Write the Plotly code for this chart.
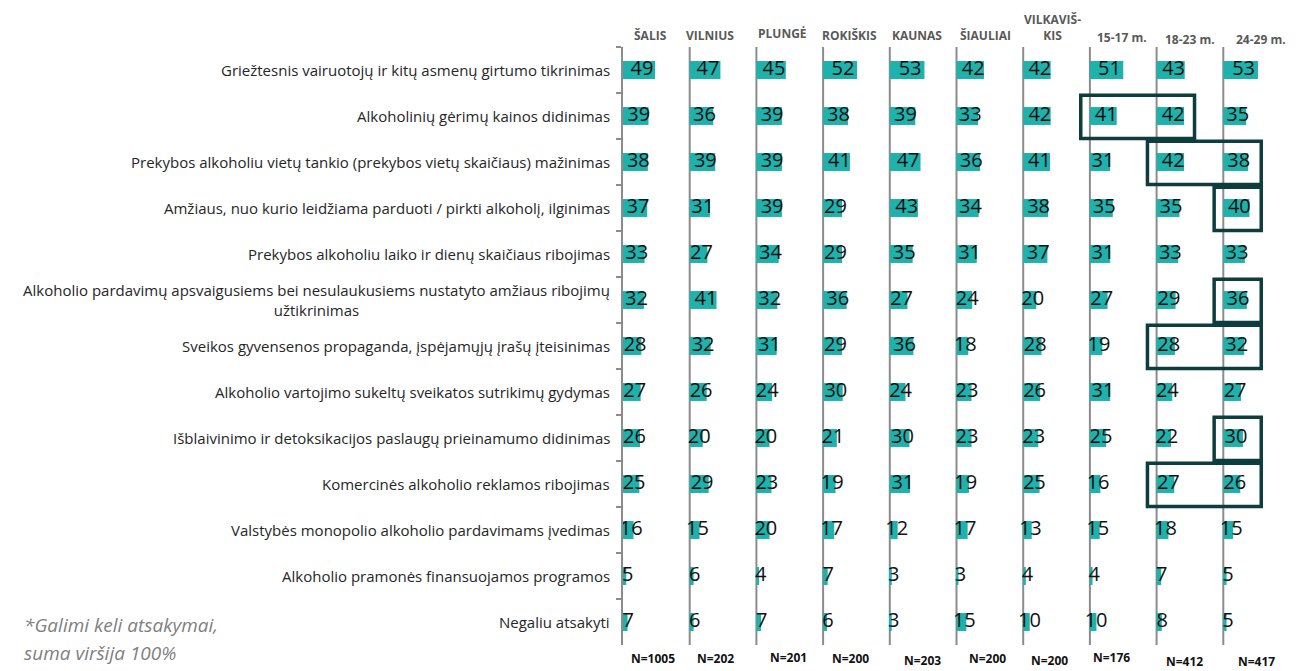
import plotly.graph_objects as go

categories = [
    "Griežtesnis vairuotojų ir kitų asmenų girtumo tikrinimas",
    "Alkoholinių gėrimų kainos didinimas",
    "Prekybos alkoholiu vietų tankio (prekybos vietų skaičiaus) mažinimas",
    "Amžiaus, nuo kurio leidžiama parduoti / pirkti alkoholį, ilginimas",
    "Prekybos alkoholiu laiko ir dienų skaičiaus ribojimas",
    "Alkoholio pardavimų apsvaigusiems bei nesulaukusiems nustatyto amžiaus ribojimų<br>užtikrinimas",
    "Sveikos gyvensenos propaganda, įspėjamųjų įrašų įteisinimas",
    "Alkoholio vartojimo sukeltų sveikatos sutrikimų gydymas",
    "Išblaivinimo ir detoksikacijos paslaugų prieinamumo didinimas",
    "Komercinės alkoholio reklamos ribojimas",
    "Valstybės monopolio alkoholio pardavimams įvedimas",
    "Alkoholio pramonės finansuojamos programos",
    "Negaliu atsakyti",
]

groups = ["ŠALIS", "VILNIUS", "PLUNGĖ", "ROKIŠKIS", "KAUNAS", "ŠIAULIAI",
          "VILKAVIŠ-<br>KIS", "15-17 m.", "18-23 m.", "24-29 m."]
sample_sizes = ["N=1005", "N=202", "N=201", "N=200", "N=203", "N=200",
                "N=200", "N=176", "N=412", "N=417"]

salis = [49, 39, 38, 37, 33, 32, 28, 27, 26, 25, 16, 5, 7]
vilnius = [47, 36, 39, 31, 27, 41, 32, 26, 20, 29, 15, 6, 6]
plunge = [45, 39, 39, 39, 34, 32, 31, 24, 20, 23, 20, 4, 7]
rokiskis = [52, 38, 41, 29, 29, 36, 29, 30, 21, 19, 17, 7, 6]
kaunas = [53, 39, 47, 43, 35, 27, 36, 24, 30, 31, 12, 3, 3]
siauliai = [42, 33, 36, 34, 31, 24, 18, 23, 23, 19, 17, 3, 15]
vilkaviskis = [42, 42, 41, 38, 37, 20, 28, 26, 23, 25, 13, 4, 10]
age_15_17 = [51, 41, 31, 35, 31, 27, 19, 31, 25, 16, 15, 4, 10]
age_18_23 = [43, 42, 42, 35, 33, 29, 28, 24, 22, 27, 18, 7, 8]
age_24_29 = [53, 35, 38, 40, 33, 36, 32, 27, 30, 26, 15, 5, 5]

series = [salis, vilnius, plunge, rokiskis, kaunas, siauliai, vilkaviskis,
          age_15_17, age_18_23, age_24_29]

# highlighted cells: (category index, first group index, last group index)
highlights = [(1, 7, 8), (2, 8, 9), (3, 9, 9), (5, 9, 9), (6, 8, 9), (8, 9, 9), (9, 8, 9)]

# ---------------- layout ----------------
W, H = 1308, 671
L, R, T, B = 623, 18, 47, 26
S = 102  # axis units per panel
BAR = "#1FB1AB"
GRID = "#8c8c8c"
FONT = "Open Sans"

def px_x(px):
    return (px - L) / (W - L - R)

def px_y(py):
    return (H - B - py) / (H - T - B)

fig = go.Figure()

for k, vals in enumerate(series):
    fig.add_trace(go.Bar(
        orientation="h", y=categories, x=vals, base=k * S, width=0.39,
        marker=dict(color=BAR, line=dict(width=0)), hoverinfo="skip",
        showlegend=False))
for k, vals in enumerate(series):
    fig.add_trace(go.Scatter(
        mode="text", y=categories, x=[k * S + v / 2 + 4.5 for v in vals],
        text=[str(v) for v in vals], textposition="middle center",
        textfont=dict(family=FONT, size=20, color="#111111"),
        hoverinfo="skip", showlegend=False, cliponaxis=False))

shapes = []
for k in range(1, len(series)):
    shapes.append(dict(type="line", xref="x", yref="paper", x0=k * S, x1=k * S,
                       y0=0, y1=1, line=dict(color=GRID, width=2), layer="below"))
for (r, g0, g1) in highlights:
    shapes.append(dict(type="rect", xref="x", yref="y",
                       x0=g0 * S - 14, x1=g1 * S + 58, y0=r - 0.45, y1=r + 0.49,
                       line=dict(color="#0E3D3D", width=3.5), layer="above"))

annotations = []
for c in categories:
    annotations.append(dict(text=c, xref="paper", yref="y", x=0, y=c,
                            xanchor="right", yanchor="middle", xshift=-11,
                            align="center", showarrow=False,
                            font=dict(family=FONT, size=15, color="#262626")))

header_pos = [(650, 35), (710, 36), (782, 34), (849, 35), (917, 35), (985, 35),
              (1052, 28), (1122, 37), (1190, 40), (1261, 40)]
for g, (hx, hy) in zip(groups, header_pos):
    annotations.append(dict(text=g, xref="paper", yref="paper", x=px_x(hx), y=px_y(hy),
                            xanchor="center", yanchor="middle", showarrow=False,
                            font=dict(family=FONT, size=12, color="#595959", weight="bold")))

n_pos = [(653, 658), (715, 658), (788, 657), (850, 658), (922, 660), (987, 658),
         (1049, 660), (1111, 657), (1184, 661), (1256, 661)]
for n, (nx, ny) in zip(sample_sizes, n_pos):
    annotations.append(dict(text=n, xref="paper", yref="paper", x=px_x(nx), y=px_y(ny),
                            xanchor="center", yanchor="middle", showarrow=False,
                            font=dict(family=FONT, size=12, color="#111111", weight="bold")))

for txt, fy in [("*Galimi keli atsakymai,", 625), ("suma viršija 100%", 653)]:
    annotations.append(dict(text=txt, xref="paper", yref="paper", x=px_x(22), y=px_y(fy),
                            xanchor="left", yanchor="middle", showarrow=False,
                            font=dict(family=FONT, size=19, color="#7f7f7f", style="italic")))

fig.update_layout(
    width=W, height=H, margin=dict(l=L, r=R, t=T, b=B),
    paper_bgcolor="white", plot_bgcolor="white", barmode="overlay",
    shapes=shapes, annotations=annotations, showlegend=False,
    xaxis=dict(range=[0, len(series) * S], visible=False, fixedrange=True),
    yaxis=dict(type="category", categoryorder="array", categoryarray=categories,
               range=[len(categories) - 0.5, -0.5], showline=True, linecolor=GRID,
               linewidth=2, ticks="outside", tickson="boundaries", ticklen=5,
               tickcolor=GRID, tickwidth=2, showticklabels=False, showgrid=False,
               zeroline=False, fixedrange=True),
)

fig.write_html("out.html")
